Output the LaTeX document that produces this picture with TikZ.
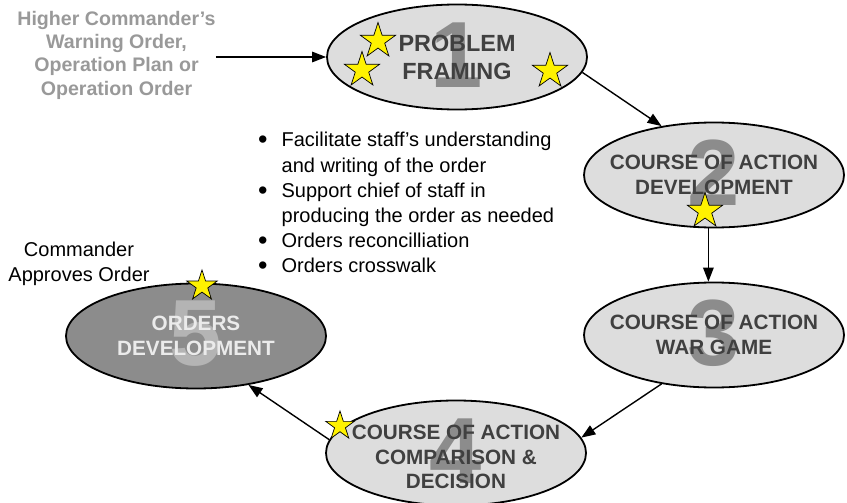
\documentclass[tikz,border=0pt]{standalone}
\usepackage{fontspec}
\setmainfont{Liberation Sans}
\usetikzlibrary{shapes.geometric,arrows.meta}
\definecolor{stagefill}{HTML}{DDDDDD}
\definecolor{stagetext}{HTML}{404040}
\definecolor{stagenum}{HTML}{8C8C8C}
\definecolor{activefill}{HTML}{8C8C8C}
\definecolor{activenum}{HTML}{B4B4B4}
\definecolor{activetext}{HTML}{EBEBEB}
\definecolor{sourcetext}{HTML}{999999}
\newcommand{\taskdot}{\raisebox{-2pt}{\fontsize{27}{27}\selectfont\textbullet}}
\begin{document}
\begin{tikzpicture}[x=1pt,y=-1pt,
  stage/.style={ellipse, draw=black, line width=1.8pt, fill=stagefill,
    minimum width=260pt, minimum height=105pt, inner sep=0pt},
  stagenum/.style={text=stagenum, font=\fontsize{94}{94}\selectfont\bfseries, inner sep=0pt},
  stagelabel/.style={text=stagetext, align=center,
    font=\fontsize{20.7}{24.5}\selectfont\bfseries, inner sep=0pt},
  flow/.style={line width=1.4pt, -{Triangle[length=14pt,width=10.5pt]}},
  award/.style={star, star points=5, star point ratio=2.618, draw=black,
    line width=0.7pt, fill=yellow, minimum size=37pt, inner sep=0pt},
  note/.style={font=\fontsize{20}{25}\selectfont, align=center, inner sep=0pt}
]
\useasboundingbox (0,0) rectangle (847,503);

% the five planning stages
\node[stage] (s1) at (457,57) {};
\node[stage] (s2) at (714,175) {};
\node[stage] (s3) at (714,335) {};
\node[stage] (s4) at (456,453) {};
\node[stage, fill=activefill] (s5) at (196,336) {};

% large step numbers behind the labels
\node[stagenum, yshift=2pt] (n1) at (s1) {1};
\node[stagenum, yshift=2pt] (n2) at (s2) {2};
\node[stagenum, yshift=2pt] (n3) at (s3) {3};
\node[stagenum, yshift=2pt] (n4) at (s4) {4};
\node[stagenum, yshift=2pt, text=activenum] (n5) at (s5) {5};

% stage titles
\node[stagelabel, font=\fontsize{23.4}{28}\selectfont\bfseries] (t1) at (s1) {PROBLEM\\FRAMING};
\node[stagelabel] (t2) at (s2) {COURSE OF ACTION\\DEVELOPMENT};
\node[stagelabel] (t3) at (s3) {COURSE OF ACTION\\WAR GAME};
\node[stagelabel, yshift=-4pt] (t4) at (s4) {COURSE OF ACTION\\COMPARISON \&\\DECISION};
\node[stagelabel, text=activetext] (t5) at (s5) {ORDERS\\DEVELOPMENT};

% incoming orders
\node[note, font=\fontsize{19.6}{23.3}\selectfont\bfseries, text=sourcetext] (src) at (116.5,55)
  {Higher Commander’s\\Warning Order,\\Operation Plan or\\Operation Order};

% approval note
\node[note] (appr) at (79,264) {Commander\\Approves Order};

% tasks during orders development
\node[inner sep=0pt, anchor=north west, font=\fontsize{20}{25.2}\selectfont] (tasks) at (258,129)
  {\begin{tabular}{@{}l@{\hspace{14pt}}l@{}}
   \taskdot & Facilitate staff’s understanding\\
            & and writing of the order\\
   \taskdot & Support chief of staff in\\
            & producing the order as needed\\
   \taskdot & Orders reconcilliation\\
   \taskdot & Orders crosswalk
   \end{tabular}};

% flow between the stages
\draw[flow] (src.east |- s1.west) -- (s1.west);
\draw[flow] (s1.-7) -- (s2.137);
\draw[flow] (s2.-96) -- (s3.96);
\draw[flow] (s3.-137) -- (s4.7);
\draw[flow] (s4.174) -- (s5.-43);

% stars
\node[award] (a1) at (378,41) {};
\node[award] (a2) at (362,70) {};
\node[award] (a3) at (550,71) {};
\node[award] (a4) at (705,211) {};
\node[award, minimum size=32pt] (a5) at (202,286) {};
\node[award, minimum size=30pt] (a6) at (340,426) {};
\end{tikzpicture}
\end{document}
